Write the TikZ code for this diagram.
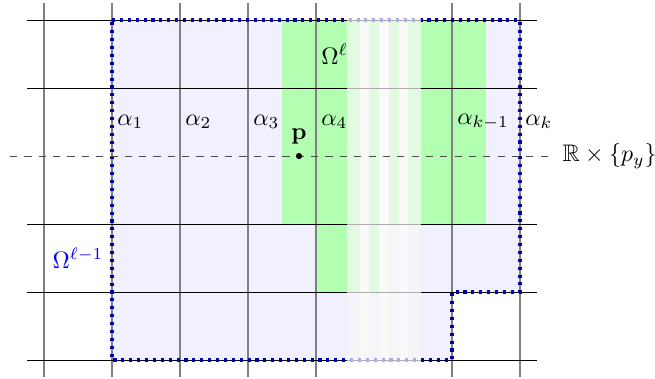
\documentclass[tikz,border=0pt]{standalone}
\usepackage{amsmath,amssymb}
\begin{document}
\begin{tikzpicture}[
  gridv/.style={gray, line width=0.6pt},
  gridh/.style={black, line width=0.4pt},
  border/.style={blue!65!black, dotted, line width=1.3pt},
  alab/.style={anchor=west, inner sep=2pt},
  stripe/.style={white},
  fadeband/.style={white!97!black, opacity=0.7},
]
\useasboundingbox (-0.647,-3.279) rectangle (8.985,2.294);
% regions
\fill[blue!6] (1,2) -- (7,2) -- (7,-2) -- (6,-2) -- (6,-3) -- (1,-3) -- cycle;
\fill[green!30] (3.5,2) rectangle (6.5,-1);
\fill[green!30] (4,-1) rectangle (5,-2);
% white stripes of the break
\foreach \c in {4.716,5.0,5.284}
  \fill[stripe] (\c-0.07,2.3) rectangle (\c+0.07,-3.3);
% grid
\foreach \x in {0,1,2,3,4,6,7}
  \draw[gridv] (\x,2.25) -- (\x,-3.25);
\foreach \y in {2,1,-1,-2,-3}
  \draw[gridh] (-0.25,\y) -- (7.25,\y);
% boundary of Omega^{l-1}
\draw[border] (1,2) -- (7,2) -- (7,-2) -- (6,-2) -- (6,-3) -- (1,-3) -- cycle;
% faded band
\fill[fadeband] (4.45,2.035) rectangle (5.55,-3.035);
% dashed line R x {p_y}
\node[anchor=west, inner sep=0.2cm] (rl) at (7.42,0) {$\mathbb{R}\times\{p_y\}$};
\coordinate (dl) at (-0.5,0);
\draw[dashed, black!70] (dl) -- (rl.west);
% point p
\node[circle, fill=black, inner sep=0pt, minimum size=2.6pt] (p) at (3.75,0) {};
\node[anchor=south] (plab) at (p.north) {$\mathbf{p}$};
% labels
\node[alab] (a1) at (1,0.5) {$\alpha_1$};
\node[alab] (a2) at (2,0.5) {$\alpha_2$};
\node[alab] (a3) at (3,0.5) {$\alpha_3$};
\node[alab] (a4) at (4,0.5) {$\alpha_4$};
\node[alab] (ak1) at (6,0.5) {$\alpha_{k-1}$};
\node[alab] (ak) at (7,0.5) {$\alpha_k$};
\node[alab] (om) at (4,1.5) {$\Omega^{\ell}$};
\node[text=blue] (om1) at (0.5,-1.5) {$\Omega^{\ell-1}$};
\end{tikzpicture}
\end{document}
